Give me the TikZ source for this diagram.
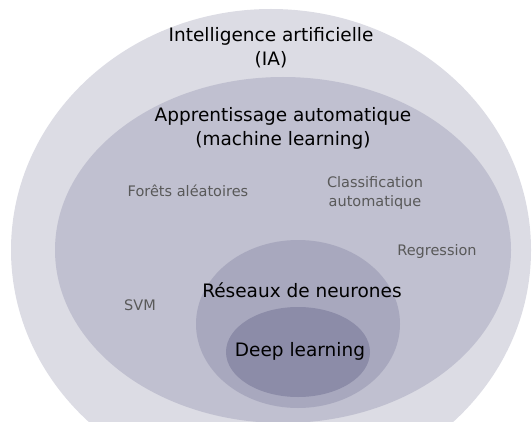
\documentclass[tikz,border=0pt]{standalone}
\usepackage{fontspec}
\setmainfont{DejaVu Sans}
\usepackage{tikz}

\definecolor{iafill}{HTML}{DCDCE4}
\definecolor{mlfill}{HTML}{C0C0D0}
\definecolor{nnfill}{HTML}{A8A8BE}
\definecolor{dlfill}{HTML}{8C8CA8}

\tikzset{
  biglabel/.style={font=\fontsize{18.5}{24}\selectfont, text=black, align=center},
  smalllabel/.style={font=\fontsize{14.5}{19}\selectfont, text=black!65, align=center}
}

\begin{document}
\begin{tikzpicture}[x=1pt,y=-1pt]
    % frame of the picture
    \useasboundingbox (0,0) rectangle (532,422);
    \clip (0,0) rectangle (532,422);

    % draw nested ellipses
    \fill[iafill] (271,250) ellipse [x radius=260, y radius=241];
    \fill[mlfill] (283,250) ellipse [x radius=228, y radius=173];
    \fill[nnfill] (298,324) ellipse [x radius=102, y radius=84];
    \fill[dlfill] (298,352) ellipse [x radius=72, y radius=45];

    % draw main labels
    \node[biglabel] (ia) at (271,48) {Intelligence artificielle\\(IA)};
    \node[biglabel] (ml) at (283,128.5) {Apprentissage automatique\\(machine learning)};
    \node[biglabel] (nn) at (302,290) {Réseaux de neurones};
    \node[biglabel] (dl) at (300,351) {Deep learning};

    % draw method labels
    \node[smalllabel] (rf) at (188,191) {Forêts aléatoires};
    \node[smalllabel] (cls) at (375,192.5) {Classification\\automatique};
    \node[smalllabel] (reg) at (437,251) {Regression};
    \node[smalllabel] (svm) at (140,305) {SVM};

\end{tikzpicture}
\end{document}
